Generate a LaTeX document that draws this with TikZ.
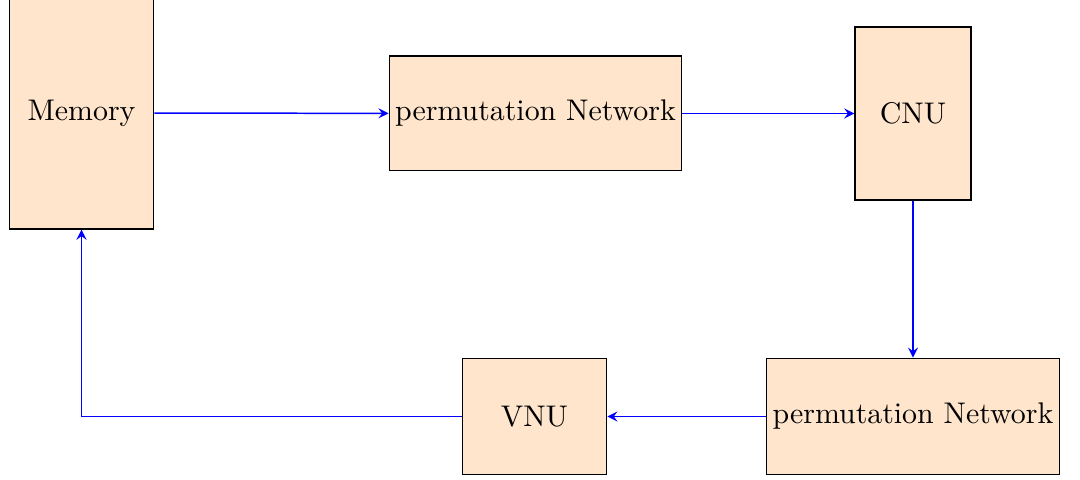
\documentclass[tikz,border=0pt]{standalone}
\usepackage{tikz}
\usetikzlibrary{positioning}
\tikzset{
    block/.style={draw, fill=orange!20, minimum width=1.7cm, minimum height=1.35cm, inner sep=2pt},
    link/.style={blue, line width=0.5pt, ->, >=stealth}
}

\begin{document}
\begin{tikzpicture}
			\useasboundingbox (0,0) rectangle (12.706,-5.647);
			\node[block, minimum height=2.73cm] (memory) at (0.959,-1.33) {Memory};
			\node[block, minimum width=3.42cm] (perm1) at (6.3,-1.335) {permutation Network};
			\node[block, minimum width=1.365cm, minimum height=2.035cm] (cnu) at (10.741,-1.335) {CNU};
			\node[block, minimum width=3.42cm, minimum height=1.37cm] (perm2) at (10.741,-4.9) {permutation Network};
			\node[block, minimum height=1.37cm] (vnu) at (6.288,-4.9) {VNU};
			% data path
			\draw[link] (memory) -- (perm1);
			\draw[link] (perm1) -- (cnu);
			\draw[link] (cnu) -- (perm2);
			\draw[link] (perm2) -- (vnu);
			\draw[link] (vnu.west) -| (memory.south);
		\end{tikzpicture}
\end{document}
